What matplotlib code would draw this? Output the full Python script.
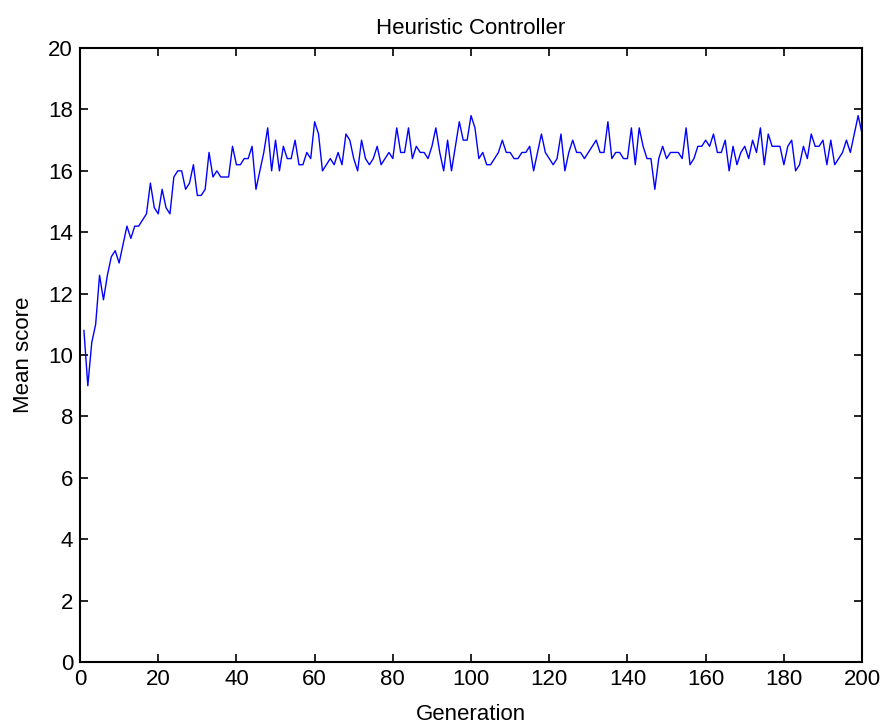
import matplotlib
matplotlib.use("Agg")
import matplotlib.pyplot as plt
import numpy as np

plt.rcParams['font.family'] = ['Liberation Sans', 'DejaVu Sans']

# mean score per generation
generation = np.arange(1, 201)
mean_score = [
    10.8, 9.0, 10.4, 11.0, 12.6, 11.8, 12.6, 13.2, 13.4, 13.0,
    13.6, 14.2, 13.8, 14.2, 14.2, 14.4, 14.6, 15.6, 14.8, 14.6,
    15.4, 14.8, 14.6, 15.8, 16.0, 16.0, 15.4, 15.6, 16.2, 15.2,
    15.2, 15.4, 16.6, 15.8, 16.0, 15.8, 15.8, 15.8, 16.8, 16.2,
    16.2, 16.4, 16.4, 16.8, 15.4, 16.0, 16.6, 17.4, 16.0, 17.0,
    16.0, 16.8, 16.4, 16.4, 17.0, 16.2, 16.2, 16.6, 16.4, 17.6,
    17.2, 16.0, 16.2, 16.4, 16.2, 16.6, 16.2, 17.2, 17.0, 16.4,
    16.0, 17.0, 16.4, 16.2, 16.4, 16.8, 16.2, 16.4, 16.6, 16.4,
    17.4, 16.6, 16.6, 17.4, 16.4, 16.8, 16.6, 16.6, 16.4, 16.8,
    17.4, 16.6, 16.0, 17.0, 16.0, 16.8, 17.6, 17.0, 17.0, 17.8,
    17.4, 16.4, 16.6, 16.2, 16.2, 16.4, 16.6, 17.0, 16.6, 16.6,
    16.4, 16.4, 16.6, 16.6, 16.8, 16.0, 16.6, 17.2, 16.6, 16.4,
    16.2, 16.4, 17.2, 16.0, 16.6, 17.0, 16.6, 16.6, 16.4, 16.6,
    16.8, 17.0, 16.6, 16.6, 17.6, 16.4, 16.6, 16.6, 16.4, 16.4,
    17.4, 16.2, 17.4, 16.8, 16.4, 16.4, 15.4, 16.4, 16.8, 16.4,
    16.6, 16.6, 16.6, 16.4, 17.4, 16.2, 16.4, 16.8, 16.8, 17.0,
    16.8, 17.2, 16.6, 16.6, 17.0, 16.0, 16.8, 16.2, 16.6, 16.8,
    16.4, 17.0, 16.6, 17.4, 16.2, 17.2, 16.8, 16.8, 16.8, 16.2,
    16.8, 17.0, 16.0, 16.2, 16.8, 16.4, 17.2, 16.8, 16.8, 17.0,
    16.2, 17.0, 16.2, 16.4, 16.6, 17.0, 16.6, 17.2, 17.8, 17.2,
]
x_ticks = np.arange(0, 201, 20)
y_ticks = np.arange(0, 21, 2)

fig = plt.figure(figsize=(8.86, 7.24), dpi=100)
ax = fig.add_axes([0.0903, 0.0856, 0.8827, 0.848])

ax.plot(generation, mean_score, color='#0000ff', linewidth=1.0)

ax.set_xlim(0, 200)
ax.set_ylim(0, 20)
ax.set_xticks(x_ticks)
ax.set_yticks(y_ticks)
ax.tick_params(direction='in', length=6, width=1.2, top=True, right=True,
               labelsize=16, pad=5)
for s in ax.spines.values():
    s.set_linewidth(1.5)

ax.set_title('Heuristic Controller', fontsize=16, pad=10)
ax.set_xlabel('Generation', fontsize=16, labelpad=10)
ax.set_ylabel('Mean score', fontsize=16, labelpad=10)

fig.savefig('out.png', dpi=100)
